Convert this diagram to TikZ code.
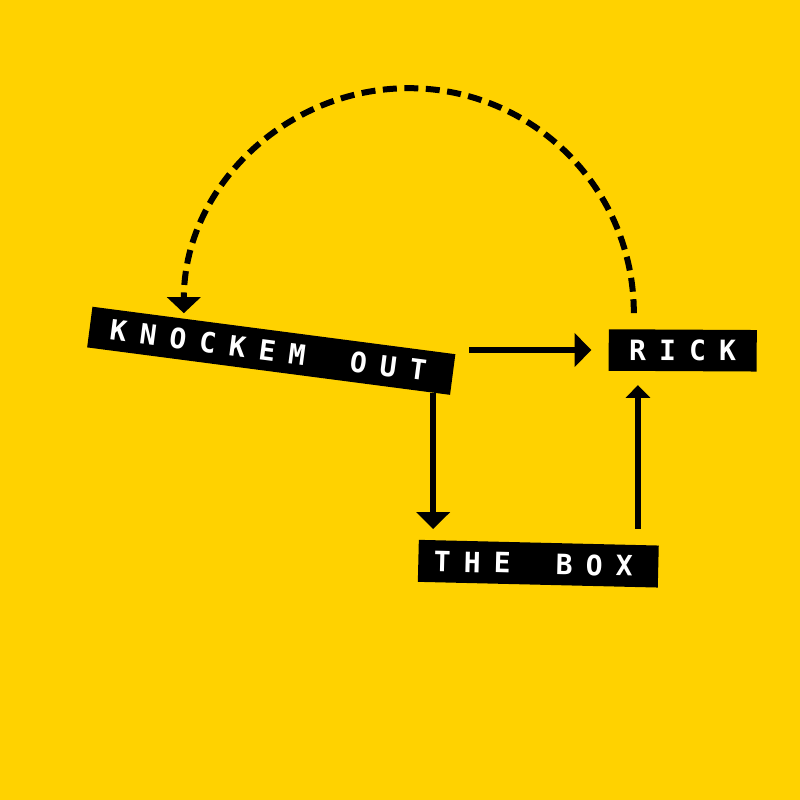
\documentclass[tikz,border=0pt]{standalone}
\usepackage{fontspec}
\newfontfamily\lblfont{DejaVu Sans Mono}
\usetikzlibrary{arrows.meta,calc}
\definecolor{bgyellow}{RGB}{255,210,0}
\def\spacedtext#1{\spacedloop#1\relax}
\def\spacedloop#1{\ifx#1\relax\else\makebox[30pt]{#1}\expandafter\spacedloop\fi}
\tikzset{
  label box/.style={fill=black, text=white, inner sep=0pt, font=\fontsize{28pt}{28pt}\lblfont\bfseries\selectfont},
  conn/.style={line width=6pt, draw=black},
  bighead/.style={-{Triangle[width=33pt,length=17pt]}},
  smallhead/.style={-{Triangle[width=24pt,length=12.7pt]}},
  dashconn/.style={line width=6pt, draw=black, dash pattern=on 14pt off 7.5pt}
}
\begin{document}
\begin{tikzpicture}[x=1pt,y=1pt]
\fill[bgyellow] (0,0) rectangle (800,800);
\useasboundingbox (0,0) rectangle (800,800);
\node[label box, rotate=-7.45, minimum width=366pt, minimum height=41pt] (knock) at (271.25,449.2) {\spacedtext{KNOCKEM}\kern32pt\spacedtext{OUT}\kern6pt};
\node[label box, rotate=-0.3, minimum width=148pt, minimum height=41.5pt] (rick) at (682.7,449.6) {\spacedtext{RICK}};
\node[label box, rotate=-1.36, minimum width=240pt, minimum height=42pt] (thebox) at (538.3,236.3) {\spacedtext{THE}\kern32pt\spacedtext{BOX}\kern10pt};
% knockem -> rick
\draw[conn, bighead, shorten <=16.5pt, shorten >=17pt] (knock.east |- rick.west) -- (rick.west);
% knockem -> the box
\coordinate (ks) at ($(knock.south east)!0.047!(knock.south west)$);
\draw[conn, bighead, shorten >=13.4pt] (ks) -- (ks |- thebox.north);
% the box -> rick
\coordinate (bs) at ($(thebox.north west)!0.9125!(thebox.north east)$);
\draw[conn, smallhead, shorten <=16pt, shorten >=13.8pt] (bs) -- (bs |- rick.south);
% dashed arc rick -> knockem
\coordinate (rt) at ($(rick.north west)!0.17!(rick.north east)+(0,16)$);
\draw[dashconn, -{Triangle[width=33pt,length=16pt]}] (rt) arc (0:180:225);
\end{tikzpicture}
\end{document}
